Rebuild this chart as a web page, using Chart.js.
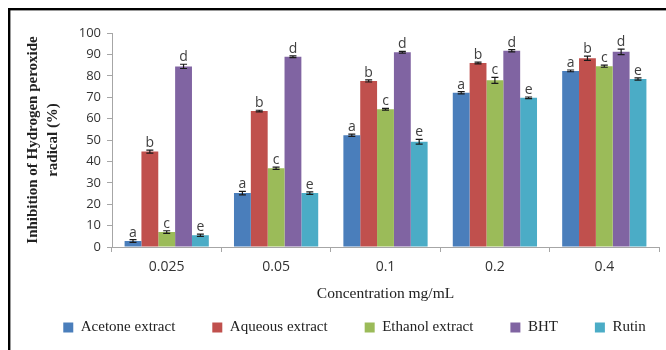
<!DOCTYPE html>
<html>
<head>
<meta charset="utf-8">
<script src="https://cdn.jsdelivr.net/npm/chart.js@4/dist/chart.umd.min.js"></script>
<style>
  html, body { margin: 0; padding: 0; background: #fff; }
  #wrap { position: relative; width: 666px; height: 350px; }
</style>
</head>
<body>
<div id="wrap"><canvas id="c" width="666" height="350"></canvas></div>
<script>
// Concentrations tested (mg/mL)
const categories = ['0.025', '0.05', '0.1', '0.2', '0.4'];

// Mean inhibition (%) for each extract / standard
const acetone = [2.8, 25.2, 52.2, 72.1, 82.3];
const aqueous = [44.6, 63.5, 77.6, 86.0, 88.2];
const ethanol = [7.0, 36.8, 64.4, 77.9, 84.5];
const bht     = [84.4, 88.9, 91.0, 91.7, 91.2];
const rutin   = [5.5, 25.2, 49.2, 69.7, 78.5];

// Standard deviations
const acetoneSd = [0.6, 0.8, 0.5, 0.5, 0.4];
const aqueousSd = [0.7, 0.4, 0.5, 0.4, 1.0];
const ethanolSd = [0.6, 0.5, 0.4, 1.4, 0.5];
const bhtSd     = [1.0, 0.4, 0.4, 0.5, 1.3];
const rutinSd   = [0.5, 0.6, 1.1, 0.4, 0.5];

// Significance letters, one per series
const letters = ['a', 'b', 'c', 'd', 'e'];

const seriesNames = ['Acetone extract', 'Aqueous extract', 'Ethanol extract', 'BHT', 'Rutin'];
const seriesColors = ['#4a7ebb', '#c0504d', '#9bbb59', '#8064a2', '#4bacc6'];
const seriesValues = [acetone, aqueous, ethanol, bht, rutin];
const seriesSd = [acetoneSd, aqueousSd, ethanolSd, bhtSd, rutinSd];

const datasets = seriesNames.map((name, i) => ({
  label: name,
  data: seriesValues[i],
  sd: seriesSd[i],
  letter: letters[i],
  backgroundColor: seriesColors[i],
  borderWidth: 0,
  categoryPercentage: 0.77,
  barPercentage: 1.0
}));

// White page with the black frame along the top and left edges
const framePlugin = {
  id: 'frame',
  beforeDraw(chart) {
    const ctx = chart.ctx;
    ctx.save();
    ctx.fillStyle = '#ffffff';
    ctx.fillRect(0, 0, chart.width, chart.height);
    ctx.fillStyle = '#000000';
    ctx.fillRect(8, 8, chart.width - 8, 2.4);
    ctx.fillRect(8, 8, 2.4, chart.height - 8);
    ctx.restore();
  }
};

// Nudge the legend row a little to the right of the page centre
const legendShift = {
  id: 'legendShift',
  afterLayout(chart) {
    if (chart.legend) {
      chart.legend.left += 25;
      chart.legend.right += 25;
    }
  }
};

// Error bars and letter annotations on top of each bar
const errorPlugin = {
  id: 'errorBars',
  afterDatasetsDraw(chart) {
    const ctx = chart.ctx;
    const y = chart.scales.y;
    ctx.save();
    chart.data.datasets.forEach((ds, di) => {
      const meta = chart.getDatasetMeta(di);
      meta.data.forEach((bar, i) => {
        const v = ds.data[i];
        const sd = ds.sd[i];
        const x = bar.x;
        const yHi = y.getPixelForValue(v + sd);
        const yLo = y.getPixelForValue(v - sd);
        const cap = 3.5;
        ctx.strokeStyle = '#1a1a1a';
        ctx.lineWidth = 1.2;
        ctx.beginPath();
        ctx.moveTo(x, yHi); ctx.lineTo(x, yLo);
        ctx.moveTo(x - cap, yHi); ctx.lineTo(x + cap, yHi);
        ctx.moveTo(x - cap, yLo); ctx.lineTo(x + cap, yLo);
        ctx.stroke();
        ctx.fillStyle = '#404040';
        ctx.font = '14px "Open Sans"';
        ctx.textAlign = 'center';
        ctx.textBaseline = 'alphabetic';
        ctx.fillText(ds.letter, x, yHi - 3);
      });
    });
    ctx.restore();
  }
};

new Chart(document.getElementById('c'), {
  type: 'bar',
  data: { labels: categories, datasets },
  plugins: [framePlugin, legendShift, errorPlugin],
  options: {
    responsive: false,
    animation: false,
    devicePixelRatio: 1,
    layout: { padding: { top: 33, right: 7, bottom: 5, left: 0 } },
    plugins: {
      legend: {
        position: 'bottom',
        labels: {
          boxWidth: 10,
          boxHeight: 10,
          padding: 37,
          color: '#222',
          font: { family: '"Liberation Serif", "Times New Roman", serif', size: 15 }
        }
      },
      tooltip: { enabled: false }
    },
    scales: {
      x: {
        afterFit(scale) { scale.height = 36; },
        grid: {
          display: true,
          drawOnChartArea: false,
          offset: true,
          tickLength: 5,
          color: '#a6a6a6'
        },
        border: { color: '#a6a6a6', width: 1 },
        ticks: {
          color: '#333',
          padding: 7,
          font: { family: '"Open Sans", sans-serif', size: 14 }
        },
        title: {
          display: true,
          text: 'Concentration mg/mL',
          color: '#222',
          padding: { top: 0, bottom: -20 },
          font: { family: '"Liberation Serif", "Times New Roman", serif', size: 15.5 }
        }
      },
      y: {
        min: 0,
        max: 100,
        afterFit(scale) { scale.width = 112; },
        ticks: {
          stepSize: 10,
          color: '#333',
          padding: 6,
          font: { family: '"Open Sans", sans-serif', size: 13 }
        },
        grid: {
          display: true,
          drawOnChartArea: false,
          tickLength: 5,
          color: '#a6a6a6'
        },
        border: { color: '#a6a6a6', width: 1 },
        title: {
          display: true,
          text: ['Inhibition of Hydrogen peroxide', 'radical (%)'],
          color: '#222',
          padding: { top: 23, bottom: 0 },
          font: { family: '"Liberation Serif", "Times New Roman", serif', size: 15, weight: 'bold', lineHeight: 1.3333 }
        }
      }
    }
  }
});
</script>
</body>
</html>
